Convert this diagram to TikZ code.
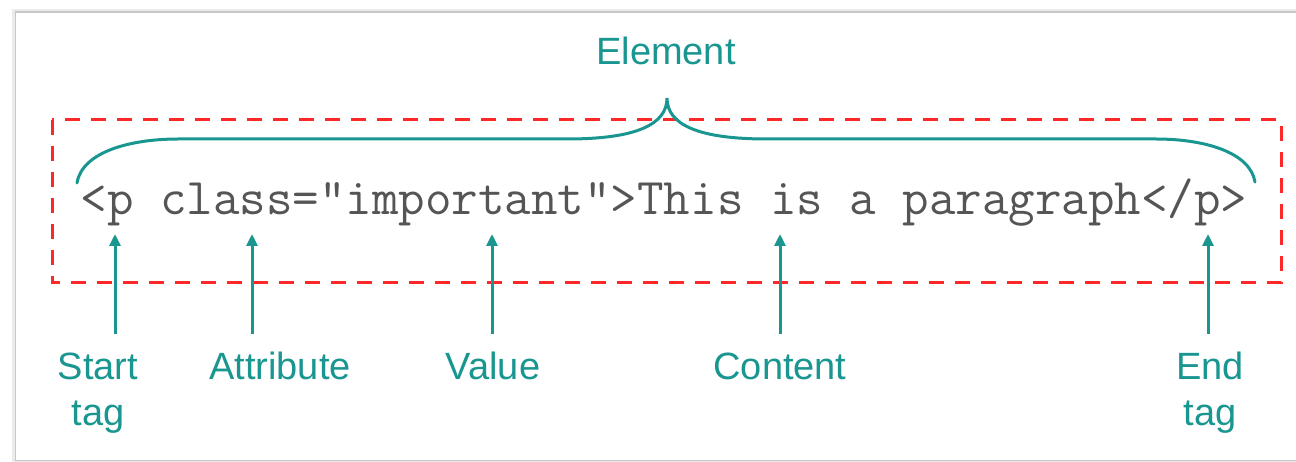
\documentclass[tikz,border=0pt]{standalone}
\usepackage{fontspec}
\setmainfont{Liberation Sans}
\usetikzlibrary{arrows.meta}
\definecolor{teal1}{RGB}{26,150,145}
\definecolor{redbox}{RGB}{255,40,40}
\definecolor{codegray}{RGB}{85,85,85}
\tikzset{
  lbl/.style={text=teal1, font=\fontsize{38}{46}\selectfont, inner sep=0pt, anchor=base},
  codetxt/.style={text=codegray, font=\ttfamily\fontsize{51.5}{56}\selectfont, inner sep=0pt, anchor=base},
  pointer/.style={draw=teal1, line width=3pt, -{Triangle[length=12pt,width=11pt]}},
  bracestyle/.style={draw=teal1, line width=3pt, line cap=round},
  boxstyle/.style={draw=redbox, line width=3pt, dash pattern=on 15pt off 11pt},
  cardedge/.style={draw=black!22, line width=1.5pt}
}
\begin{document}
\begin{tikzpicture}[x=1pt,y=-1pt]
\useasboundingbox (0,0) rectangle (1296,462);
% card
\draw[draw=black!8, line width=3pt] (1310,11) -- (13,11) -- (13,462) -- (1310,462);
\draw[cardedge] (1310,12) -- (15.5,12) -- (15.5,460.5) -- (1310,460.5);
% red dashed box
\draw[boxstyle] (52,120) rectangle (1281,283);
% code text
\node[codetxt] (code) at (664,215) {<p class="important">This is a paragraph</p>};
% brace
\draw[bracestyle] (77,183) .. controls (82,152) and (130,139) .. (178,139)
  -- (567,139) .. controls (635,139) and (667,125) .. (667,98)
  .. controls (667,125) and (699,139) .. (767,139)
  -- (1156,139) .. controls (1204,139) and (1250,152) .. (1255,182);
\node[lbl] (element) at (666,65) {Element};
% labels
\node[lbl] (start1) at (98,379) {Start};
\node[lbl] (start2) at (98,425) {tag};
\node[lbl] (attr) at (280,379) {Attribute};
\node[lbl] (value) at (493,379) {Value};
\node[lbl] (content) at (780,379) {Content};
\node[lbl] (end1) at (1210,379) {End};
\node[lbl] (end2) at (1210,425) {tag};
% arrows
\coordinate (sT) at (115,334); \coordinate (sH) at (115,234);
\coordinate (aT) at (252,334); \coordinate (aH) at (252,234);
\coordinate (vT) at (492,334); \coordinate (vH) at (492,234);
\coordinate (cT) at (780,334); \coordinate (cH) at (780,234);
\coordinate (eT) at (1208,334); \coordinate (eH) at (1208,234);
\draw[pointer] (sT) -- (sH);
\draw[pointer] (aT) -- (aH);
\draw[pointer] (vT) -- (vH);
\draw[pointer] (cT) -- (cH);
\draw[pointer] (eT) -- (eH);
\end{tikzpicture}
\end{document}
